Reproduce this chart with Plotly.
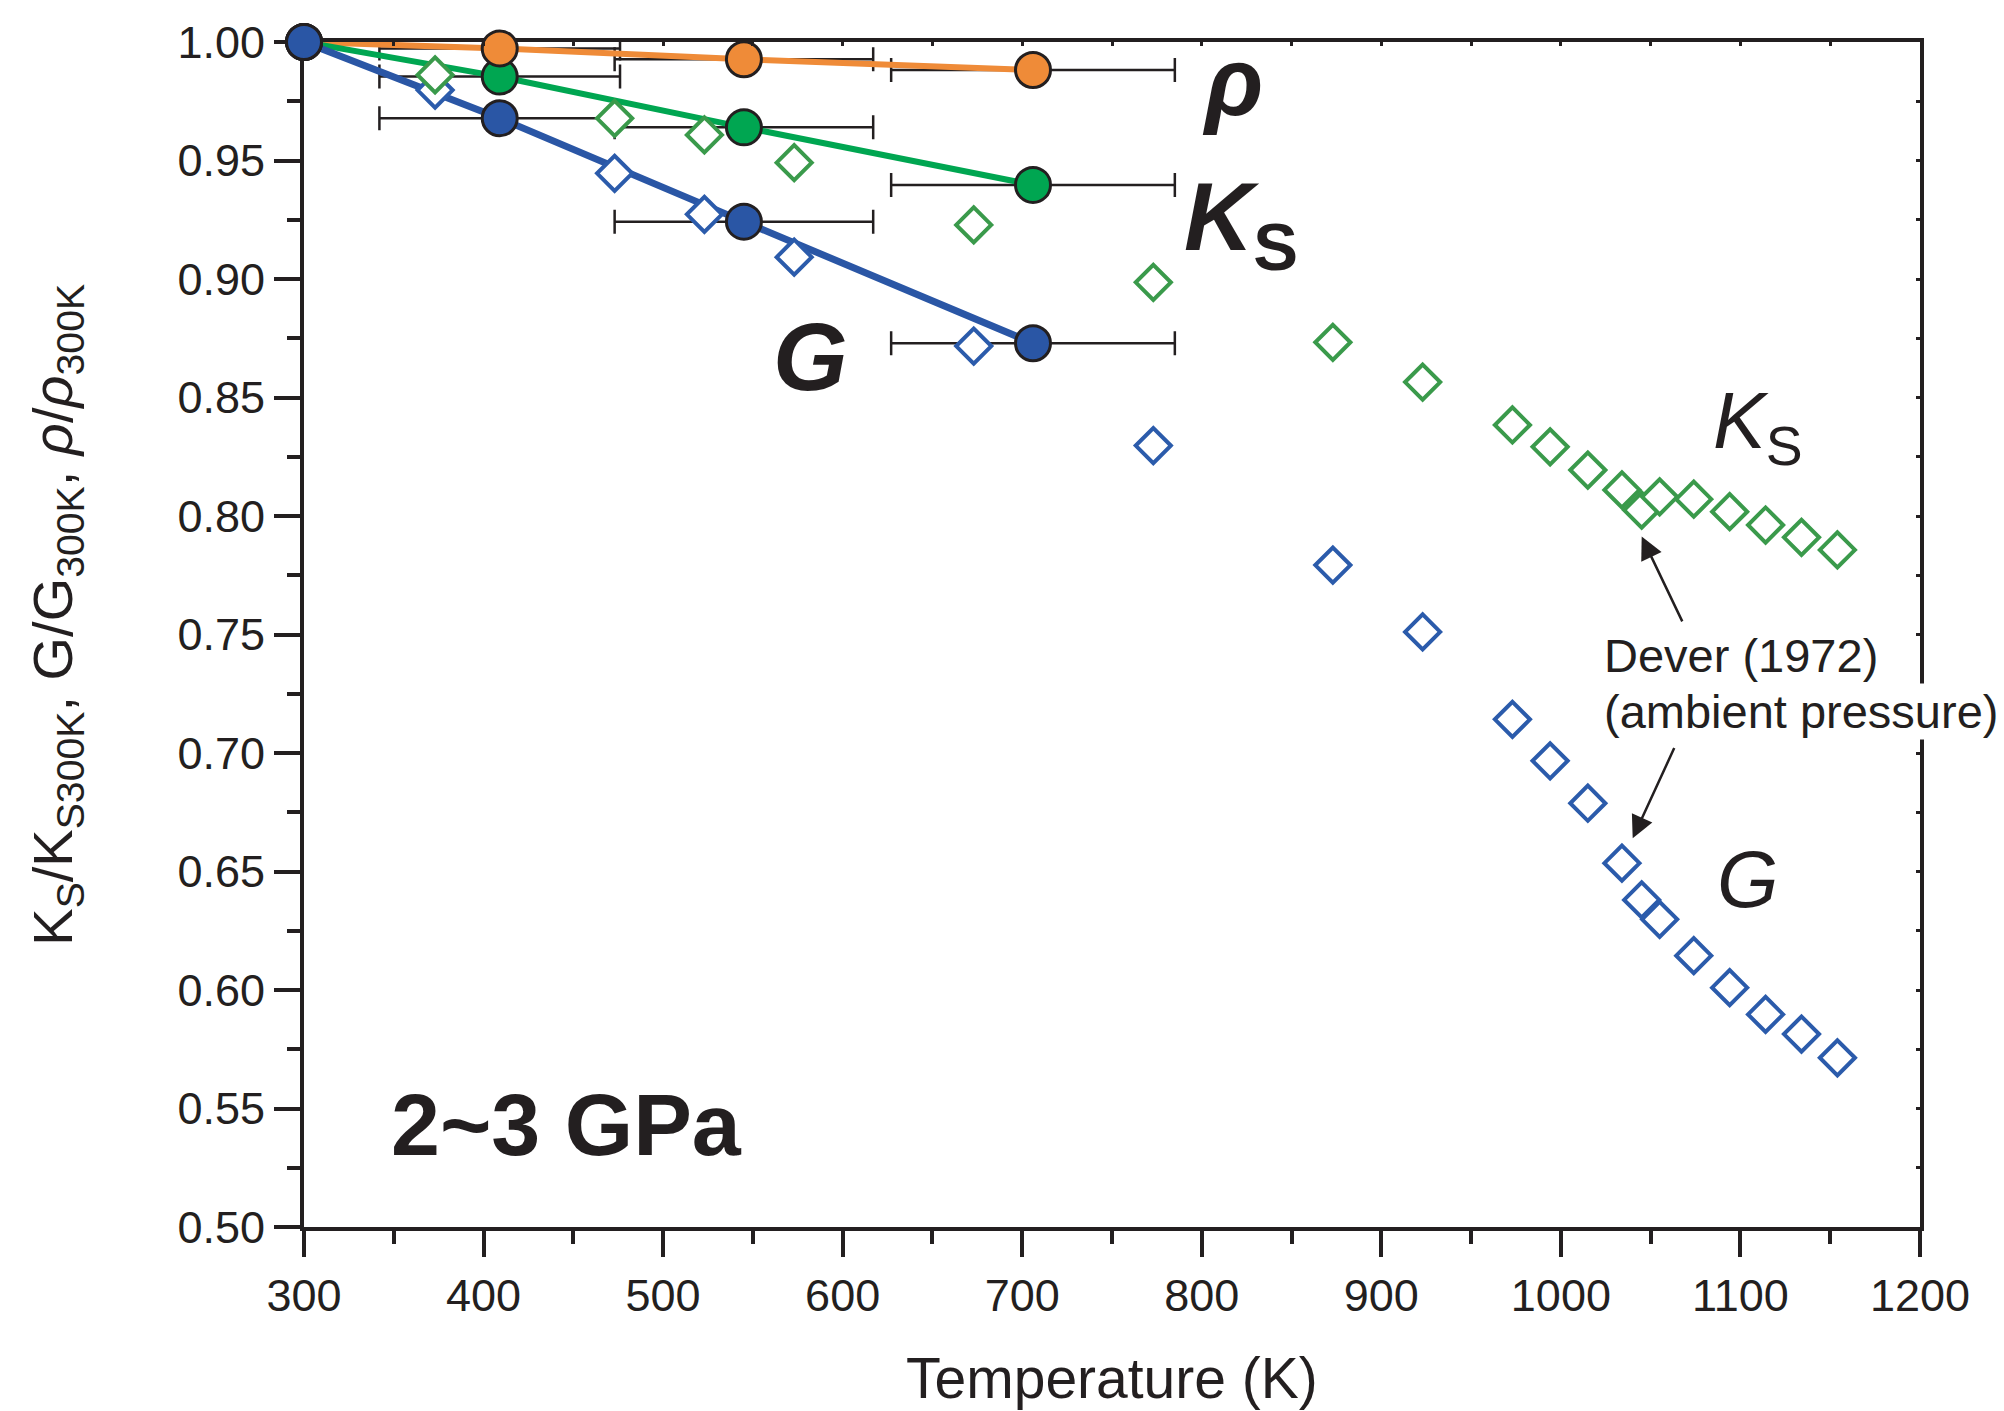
import plotly.graph_objects as go

# ---- this study, 2~3 GPa (temperature with horizontal uncertainty) ----
temp_k = [300, 409, 545, 706]
temp_err_k = [0, 67, 72, 79]
rho_ratio = [1.000, 0.9973, 0.9927, 0.9882]
ks_ratio = [1.000, 0.9854, 0.9640, 0.9397]
g_ratio = [1.000, 0.9678, 0.9242, 0.8729]

# ---- Dever (1972), ambient pressure ----
dever_temp_k = [373, 473, 523, 573, 673, 773, 873, 923, 973, 994, 1015,
                1034, 1045, 1055, 1074, 1094, 1114, 1134, 1154]
dever_ks_ratio = [0.9861, 0.9678, 0.9608, 0.9491, 0.9228, 0.8986, 0.8733,
                  0.8565, 0.8384, 0.8292, 0.8194, 0.8110, 0.8025, 0.8081,
                  0.8071, 0.8018, 0.7962, 0.7910, 0.7857]
dever_g_ratio = [0.9797, 0.9446, 0.9273, 0.9092, 0.8717, 0.8297, 0.7793,
                 0.7511, 0.7142, 0.6967, 0.6788, 0.6535, 0.6380, 0.6298,
                 0.6145, 0.6010, 0.5897, 0.5814, 0.5714]

# ---- axis ticks ----
x_tick_vals = [300, 400, 500, 600, 700, 800, 900, 1000, 1100, 1200]
x_tick_text = ["300", "400", "500", "600", "700", "800", "900", "1000", "1100", "1200"]
x_minor_vals = [350, 450, 550, 650, 750, 850, 950, 1050, 1150]
y_tick_vals = [0.50, 0.55, 0.60, 0.65, 0.70, 0.75, 0.80, 0.85, 0.90, 0.95, 1.00]
y_tick_text = ["0.50", "0.55", "0.60", "0.65", "0.70", "0.75", "0.80", "0.85", "0.90", "0.95", "1.00"]
y_minor_vals = [0.525, 0.575, 0.625, 0.675, 0.725, 0.775, 0.825, 0.875, 0.925, 0.975]

INK = "#231f20"
ORANGE = "#ef8b38"
GREEN = "#00a651"
BLUE = "#2a56a5"
DEVER_GREEN = "#3a9a4b"
DEVER_BLUE = "#2b5bab"
FONT = "Arial, Liberation Sans, Helvetica, sans-serif"

fig = go.Figure()

# horizontal error bars (drawn first so everything else sits on top)
for series in (rho_ratio, ks_ratio, g_ratio):
    fig.add_trace(go.Scatter(
        x=temp_k, y=series, mode="markers",
        marker=dict(size=1, color="rgba(0,0,0,0)"),
        error_x=dict(type="data", array=temp_err_k, symmetric=True,
                     color=INK, thickness=2.5, width=12),
        hoverinfo="skip", cliponaxis=False))

# connecting lines
for series, color, w in ((rho_ratio, ORANGE, 6), (ks_ratio, GREEN, 6), (g_ratio, BLUE, 7)):
    fig.add_trace(go.Scatter(x=temp_k, y=series, mode="lines",
                             line=dict(color=color, width=w), cliponaxis=False))

# Dever (1972) open diamonds
for series, color in ((dever_g_ratio, DEVER_BLUE), (dever_ks_ratio, DEVER_GREEN)):
    fig.add_trace(go.Scatter(
        x=dever_temp_k, y=series, mode="markers",
        marker=dict(symbol="diamond", size=27, color="white",
                    line=dict(color=color, width=4))))

# filled circles of this study
for series, color in ((ks_ratio, GREEN), (rho_ratio, ORANGE), (g_ratio, BLUE)):
    fig.add_trace(go.Scatter(
        x=temp_k, y=series, mode="markers",
        marker=dict(symbol="circle", size=35, color=color,
                    line=dict(color=INK, width=3)),
        cliponaxis=False))

# helper subplot that carries the small inward ticks on the top and right frame
fig.add_trace(go.Scatter(x=x_tick_vals[:1], y=y_tick_vals[:1], mode="none",
                         xaxis="x2", yaxis="y2", hoverinfo="skip"))

axis_common = dict(showgrid=False, zeroline=False, showline=True, linewidth=4,
                   linecolor=INK, mirror=True, ticks="outside", ticklen=26,
                   tickwidth=3.5, tickcolor=INK, layer="below traces",
                   tickfont=dict(size=45, color=INK, family=FONT))

fig.update_layout(
    width=2004, height=1411,
    margin=dict(l=304, r=84, t=42, b=184),
    paper_bgcolor="white", plot_bgcolor="white",
    showlegend=False,
    font=dict(family=FONT, color=INK),
    xaxis=dict(range=[300, 1200], tickmode="array", tickvals=x_tick_vals,
               ticktext=x_tick_text,
               minor=dict(tickmode="array", tickvals=x_minor_vals, ticks="outside",
                          ticklen=13, tickwidth=3.5, tickcolor=INK, showgrid=False),
               **axis_common),
    yaxis=dict(range=[0.50, 1.00], tickmode="array", tickvals=y_tick_vals,
               ticktext=y_tick_text,
               minor=dict(tickmode="array", tickvals=y_minor_vals, ticks="outside",
                          ticklen=13, tickwidth=3.5, tickcolor=INK, showgrid=False),
               **axis_common),
    xaxis2=dict(range=[300, 1200], overlaying="x", side="top", anchor="y2",
                tickmode="array", tickvals=sorted(x_tick_vals + x_minor_vals),
                ticks="inside", ticklen=4, tickwidth=3, tickcolor=INK,
                showticklabels=False, showgrid=False, zeroline=False, showline=False),
    yaxis2=dict(range=[0.50, 1.00], overlaying="y", side="right", anchor="x2",
                tickmode="array", tickvals=sorted(y_tick_vals + y_minor_vals),
                ticks="inside", ticklen=4, tickwidth=3, tickcolor=INK,
                showticklabels=False, showgrid=False, zeroline=False, showline=False),
)

def label(text, x, y, size, xanchor="center", **kw):
    fig.add_annotation(text=text, x=x, y=y, xref="x", yref="y", showarrow=False,
                       xanchor=xanchor, yanchor="middle",
                       font=dict(size=size, color=INK, family=FONT), **kw)

# series labels for this study
label("<b><i>ρ</i></b>", 817, 0.9835, 96)
label("<b><i>K</i><sub>S</sub></b>", 822, 0.9234, 96)
label("<b><i>G</i></b>", 582, 0.8671, 96)

# series labels for the reference data
label("<i>K</i><sub>S</sub>", 1110, 0.8378, 79)
label("<i>G</i>", 1104, 0.6468, 79)

label("<b>2~3 GPa</b>", 446, 0.5431, 88)

label("Dever (1972)", 1023, 0.7412, 47, xanchor="left")
label("(ambient pressure)", 1023, 0.7174, 47, xanchor="left", bgcolor="white")

# arrows from the source note to both data sets
for head, tail in (((1045, 0.7913), (1068, 0.7549)), ((1040, 0.6640), (1063.5, 0.7027))):
    fig.add_annotation(x=head[0], y=head[1], ax=tail[0], ay=tail[1],
                       xref="x", yref="y", axref="x", ayref="y", text="",
                       showarrow=True, arrowhead=2, arrowsize=1.8,
                       arrowwidth=2.5, arrowcolor=INK)

# axis titles
fig.add_annotation(text="Temperature (K)", xref="paper", yref="paper",
                   x=0.5, y=-0.1274, xanchor="center", yanchor="middle",
                   showarrow=False, font=dict(size=57, color=INK, family=FONT))
fig.add_annotation(text="K<sub>S</sub>/K<sub>S300K</sub>, G/G<sub>300K</sub>, "
                        "<i>ρ</i>/<i>ρ</i><sub>300K</sub>",
                   xref="paper", yref="paper", x=-0.153, y=0.5165,
                   xanchor="center", yanchor="middle", textangle=-90,
                   showarrow=False, font=dict(size=56, color=INK, family=FONT))

fig.write_html("out.html")
